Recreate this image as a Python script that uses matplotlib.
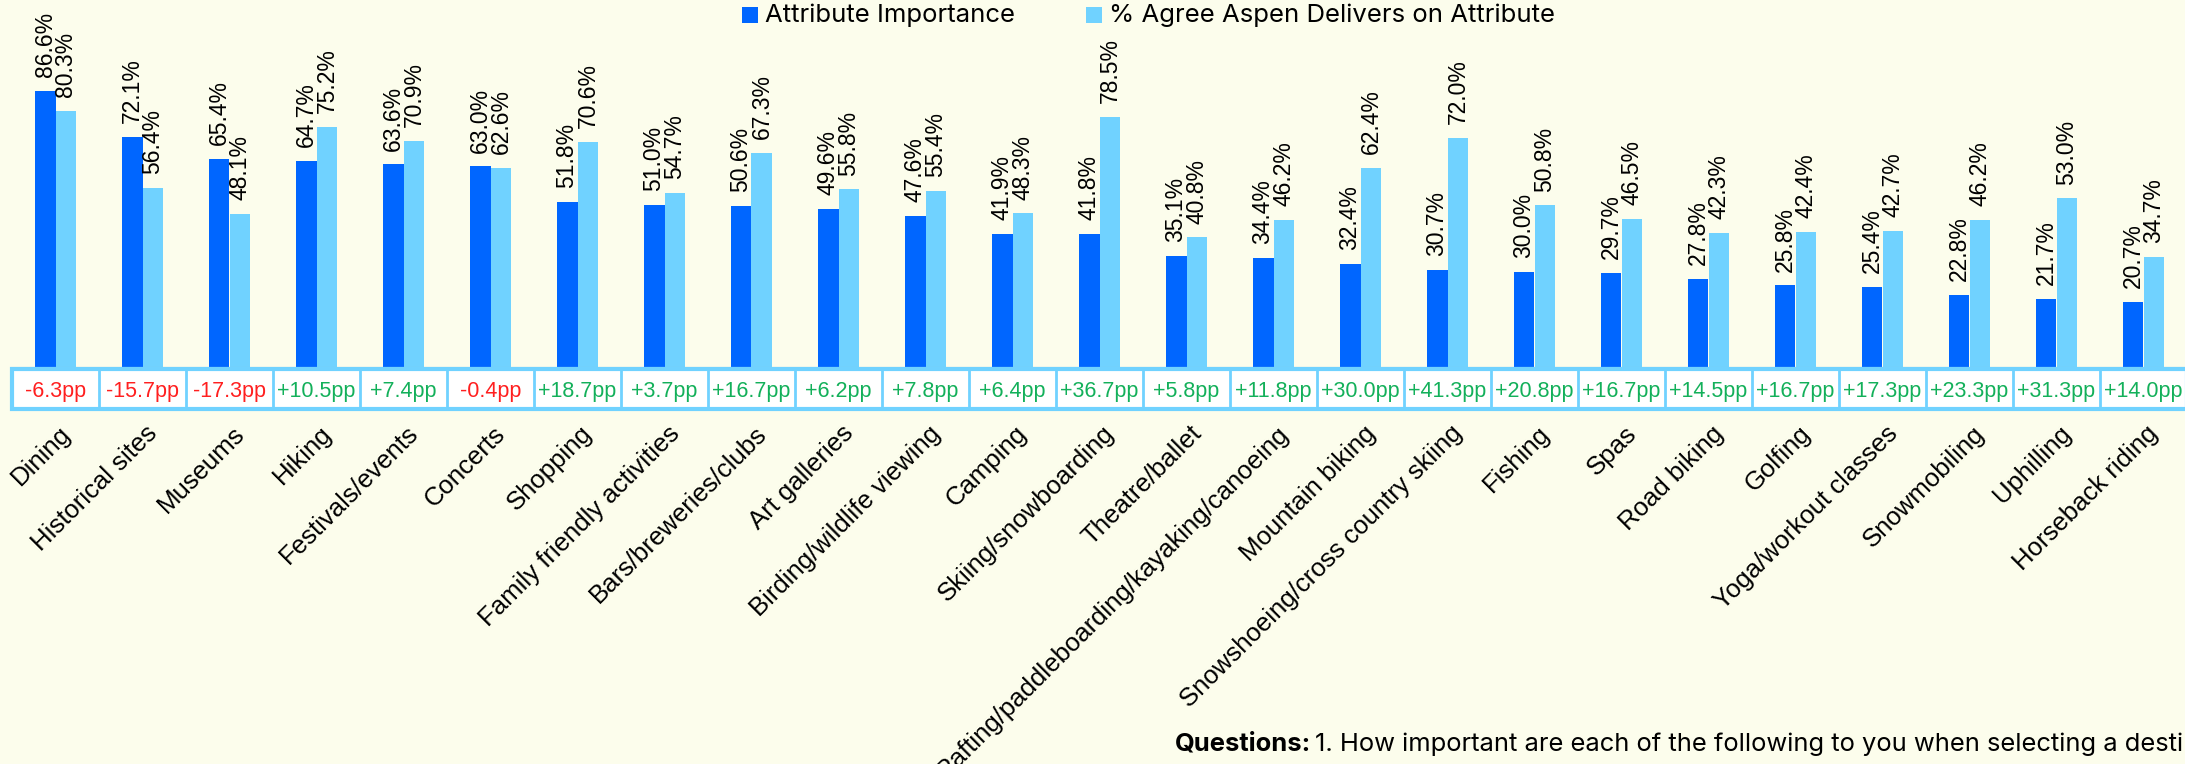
import matplotlib
matplotlib.use("Agg")
import matplotlib.pyplot as plt
from matplotlib.patches import Rectangle
import numpy as np

# data
categories = ["Dining", "Historical sites", "Museums", "Hiking", "Festivals/events",
              "Concerts", "Shopping", "Family friendly activities", "Bars/breweries/clubs",
              "Art galleries", "Birding/wildlife viewing", "Camping", "Skiing/snowboarding",
              "Theatre/ballet", "Rafting/paddleboarding/kayaking/canoeing", "Mountain biking",
              "Snowshoeing/cross country skiing", "Fishing", "Spas", "Road biking", "Golfing",
              "Yoga/workout classes", "Snowmobiling", "Uphilling", "Horseback riding"]
importance = [86.6, 72.1, 65.4, 64.7, 63.6, 63.0, 51.8, 51.0, 50.6, 49.6, 47.6, 41.9, 41.8,
              35.1, 34.4, 32.4, 30.7, 30.0, 29.7, 27.8, 25.8, 25.4, 22.8, 21.7, 20.7]
agree = [80.3, 56.4, 48.1, 75.2, 70.9, 62.6, 70.6, 54.7, 67.3, 55.8, 55.4, 48.3, 78.5,
         40.8, 46.2, 62.4, 72.0, 50.8, 46.5, 42.3, 42.4, 42.7, 46.2, 53.0, 34.7]
gaps = [-6.3, -15.7, -17.3, 10.5, 7.4, -0.4, 18.7, 3.7, 16.7, 6.2, 7.8, 6.4, 36.7,
        5.8, 11.8, 30.0, 41.3, 20.8, 16.7, 14.5, 16.7, 17.3, 23.3, 31.3, 14.0]

BG = "#fcfdec"
DARK = "#0066ff"
LIGHT = "#70d2ff"
RED = "#ff1f1f"
GREEN = "#13b05a"

W, H = 2185, 764
fig = plt.figure(figsize=(W / 100, H / 100), dpi=100, facecolor=BG)

def px(x, y_top):
    # pixel (from top-left) -> figure fraction
    return x / W, 1 - y_top / H

n = len(categories)
x = np.arange(n)
left_px, step_px = 12, 87.0
right_px = left_px + step_px * n

# bars
ax = fig.add_axes([left_px / W, 1 - 368 / H, (right_px - left_px) / W, 320 / H])
ax.set_facecolor("none")
ax.set_xlim(-0.5, n - 0.5)
ax.set_ylim(0, 100)
bw = 0.24
ax.bar(x - bw / 2, importance, bw, color=DARK, label="Attribute Importance")
ax.bar(x + bw / 2, agree, bw, color=LIGHT, label="% Agree Aspen Delivers on Attribute")
for i in range(n):
    for xx, v in ((x[i] - bw / 2, importance[i]), (x[i] + bw / 2, agree[i])):
        ax.annotate(f"{v:.1f}%", (xx, v), xytext=(0, 10), textcoords="offset points",
                    rotation=90, ha="center", va="bottom", fontsize=16.5,
                    family="Liberation Sans", color="black", annotation_clip=False)
for s in ["top", "right", "left"]:
    ax.spines[s].set_visible(False)
ax.spines["bottom"].set_color("#cccccc")
ax.spines["bottom"].set_linewidth(1.5)
ax.set_xticks([])
ax.set_yticks([])

# gap table
tab = fig.add_axes([left_px / W, 1 - 409 / H, (right_px - left_px) / W, 40 / H])
tab.set_xlim(-0.5, n - 0.5)
tab.set_ylim(0, 1)
tab.axis("off")
tab.add_patch(Rectangle((-0.5, 0), n, 1, facecolor="white", edgecolor=LIGHT,
                        linewidth=3, clip_on=False))
for i in range(1, n):
    tab.plot([i - 0.5, i - 0.5], [0, 1], color=LIGHT, lw=2, clip_on=False)
for i, g in enumerate(gaps):
    tab.text(x[i], 0.45, f"{g:+.1f}pp", ha="center", va="center", fontsize=15.5,
             family="Liberation Sans", color=GREEN if g > 0 else RED)

# category labels
for i, c in enumerate(categories):
    tab.annotate(c, (x[i], 0), xytext=(8, -15), textcoords="offset points",
                 rotation=45, rotation_mode="anchor", ha="right", va="center",
                 fontsize=18.5, family="Liberation Sans", annotation_clip=False)

# legend
for sx, col, label in ((742, DARK, "Attribute Importance"),
                       (1086, LIGHT, "% Agree Aspen Delivers on Attribute")):
    fx, fy = px(sx, 23)
    fig.patches.append(Rectangle((fx, fy), 16 / W, 16 / H, transform=fig.transFigure,
                                 facecolor=col, edgecolor="none"))
    tx, ty = px(sx + 23, 15)
    fig.text(tx, ty, label, ha="left", va="center", fontsize=18.5, family="Inter")

# footnote
qx, qy = px(1175, 744)
t1 = fig.text(qx, qy, "Questions:", ha="left", va="center", fontsize=18.4,
              family="Inter", fontweight="bold")
fig.canvas.draw()
bb = t1.get_window_extent()
fig.text((bb.x1 + 4) / W, qy,
         "1. How important are each of the following to you when selecting a destination for a leisure trip?",
         ha="left", va="center", fontsize=18.4, family="Inter")

fig.savefig("out.png", dpi=100, facecolor=BG)
